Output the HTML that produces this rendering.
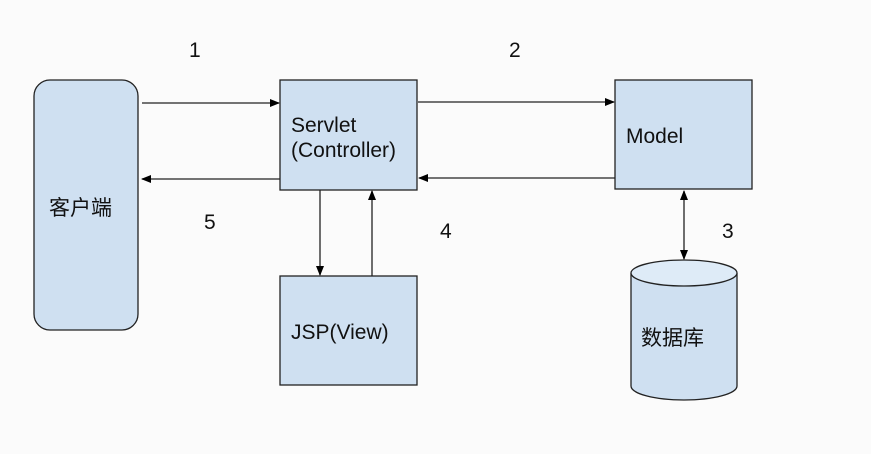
<!DOCTYPE html>
<html><head><meta charset="utf-8"><style>
body{margin:0;background:#fbfbfb}
svg text{font-family:"Liberation Sans","Noto Sans CJK SC",sans-serif;font-size:21px;fill:#111}
</style></head><body>
<svg width="871" height="449" viewBox="0 0 871 449" xmlns="http://www.w3.org/2000/svg">
<defs><marker id="a" markerWidth="10" markerHeight="8" refX="9" refY="4" orient="auto" markerUnits="userSpaceOnUse"><path d="M0,0 L10,4 L0,8 Z" fill="#000"/></marker></defs>
<rect width="871" height="449" fill="#fbfbfb"/>
<g fill="#cfe0f1" stroke="#222" stroke-width="1.3">
<rect x="34" y="80" width="104" height="250" rx="16"/>
<rect x="280" y="80" width="137" height="110"/>
<rect x="615" y="80" width="137" height="109"/>
<rect x="280" y="276" width="137" height="109"/>
<path d="M631,273 L631,386 A53,14 0 0 0 737,386 L737,273"/>
<ellipse cx="684" cy="273" rx="53" ry="13" fill="#deebf7"/>
</g>
<g stroke="#222" stroke-width="1.3" marker-end="url(#a)">
<line x1="142" y1="103" x2="279" y2="103"/>
<line x1="280" y1="179" x2="142" y2="179"/>
<line x1="418" y1="102" x2="614" y2="102"/>
<line x1="615" y1="178" x2="419" y2="178"/>
<line x1="320" y1="190" x2="320" y2="275"/>
<line x1="372" y1="276" x2="372" y2="191"/>
<line x1="684" y1="225" x2="684" y2="191"/>
<line x1="684" y1="225" x2="684" y2="259"/>
</g>
<text x="189" y="57">1</text>
<text x="509" y="57">2</text>
<text x="204" y="229">5</text>
<text x="440" y="238">4</text>
<text x="722" y="238">3</text>
<text x="291" y="132">Servlet</text>
<text x="291" y="157">(Controller)</text>
<text x="626" y="143">Model</text>
<text x="49" y="215">客户端</text>
<text x="291" y="339">JSP(View)</text>
<text x="641" y="345">数据库</text>
</svg>
</body></html>
